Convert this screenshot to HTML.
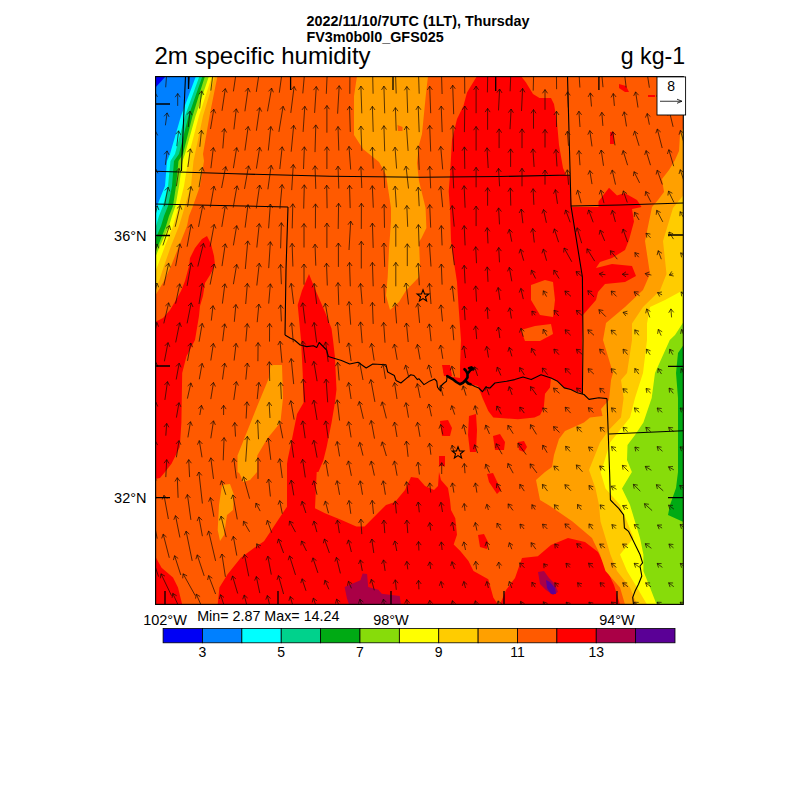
<!DOCTYPE html>
<html><head><meta charset="utf-8"><style>html,body{margin:0;padding:0;background:#fff;width:800px;height:800px;overflow:hidden}body{position:relative;font-family:"Liberation Sans",sans-serif}</style></head><body>
<svg width="800" height="800" viewBox="0 0 800 800" style="position:absolute;left:0;top:0">
<defs><clipPath id="mc"><rect x="155.6" y="76.6" width="527.6999999999999" height="527.8"/></clipPath></defs>
<rect width="800" height="800" fill="#fff"/>
<g clip-path="url(#mc)">
<rect x="155.6" y="76.6" width="527.6999999999999" height="527.8" fill="#ff5a00"/>
<polygon fill="#ffa000" points="217.5,76.0 209.5,116.0 203.0,154.0 204.0,161.0 200.0,186.0 193.0,206.0 189.0,216.0 187.0,226.0 179.0,246.0 171.0,266.0 164.0,281.0 158.0,291.0 155.0,296.0 155.0,76.0"/>
<polygon fill="#ffcc00" points="215.0,76.0 203.0,116.0 195.0,154.0 193.5,161.0 191.0,186.0 185.0,206.0 182.0,216.0 179.0,226.0 171.0,246.0 164.0,266.0 159.0,281.0 155.0,290.0 155.0,76.0"/>
<polygon fill="#ffff00" points="212.0,76.0 199.0,116.0 189.0,154.0 188.0,161.0 184.0,186.0 179.0,206.0 176.0,216.0 173.0,226.0 165.0,246.0 157.5,266.0 155.0,272.0 155.0,76.0"/>
<polygon fill="#87dc0a" points="209.0,76.0 195.5,116.0 185.0,154.0 182.5,161.0 179.0,186.0 175.5,206.0 172.0,216.0 169.0,226.0 160.0,246.0 155.0,258.0 155.0,76.0"/>
<polygon fill="#00aa14" points="205.0,76.0 192.5,116.0 183.0,154.0 178.5,161.0 176.0,186.0 173.0,206.0 169.0,216.0 166.0,226.0 158.0,246.0 155.0,250.0 155.0,76.0"/>
<polygon fill="#00d28c" points="202.5,76.0 188.5,116.0 179.0,154.0 174.0,161.0 172.0,186.0 168.0,206.0 164.0,216.0 161.0,226.0 155.0,240.0 155.0,76.0"/>
<polygon fill="#00ffff" points="199.5,76.0 185.0,116.0 175.0,154.0 170.5,161.0 168.0,186.0 163.0,206.0 159.0,216.0 156.0,226.0 155.0,228.0 155.0,76.0"/>
<polygon fill="#0080ff" points="196.0,76.0 181.0,116.0 170.0,154.0 167.0,161.0 165.0,186.0 157.0,206.0 155.0,210.0 155.0,76.0"/>
<polygon fill="#0000f5" points="166.0,76.0 155.0,88.0 155.0,76.0"/>
<polygon fill="#ffa000" points="357.0,76.0 428.0,76.0 425.6,97.5 422.0,134.0 419.0,145.0 417.0,163.0 419.0,181.0 425.6,208.0 426.4,228.0 421.5,238.0 419.0,242.0 420.0,266.0 419.0,277.0 415.7,280.6 406.0,290.5 399.0,302.0 390.0,310.0 386.0,295.5 387.7,277.0 389.0,249.0 391.0,221.0 391.0,208.0 386.0,175.0 379.0,162.0 363.0,149.0 354.0,135.0 354.0,96.0"/>
<polygon fill="#ff5a00" points="397.5,125.0 402.5,127.0 402.5,131.0 398.0,131.0"/>
<polygon fill="#ff0000" points="477.0,76.0 521.0,76.0 526.0,82.6 533.0,94.0 539.5,98.0 551.0,98.0 554.0,104.0 557.0,122.0 559.0,145.0 563.0,168.0 566.0,175.0 570.0,176.0 571.5,207.0 598.5,207.0 598.5,201.5 609.0,187.7 617.0,195.4 624.6,193.0 637.0,200.0 641.5,207.0 632.0,209.0 634.0,221.5 629.0,240.0 625.0,250.0 612.0,258.0 600.0,262.0 596.0,268.0 612.0,264.0 632.0,266.0 636.0,276.0 625.0,282.0 605.0,284.0 598.0,292.0 596.0,300.0 583.0,315.0 582.0,340.0 582.0,393.0 570.8,389.5 564.2,387.9 557.6,381.3 551.0,378.0 550.0,387.5 545.0,393.8 543.8,407.5 540.0,415.0 534.5,417.6 518.0,419.2 493.3,417.6 488.3,411.0 482.5,398.0 478.0,386.0 470.5,384.2 465.2,380.5 460.0,384.2 454.0,380.5 447.2,376.0 451.0,376.8 451.0,368.0 446.0,365.0 443.5,366.0 443.5,373.0 447.2,376.0 460.0,378.0 460.0,366.0 461.0,340.0 458.6,307.0 457.0,282.0 454.5,265.8 451.0,241.0 450.0,208.0 448.7,191.5 450.0,175.0 452.0,140.0 457.0,119.0 463.5,105.7 467.0,92.5"/>
<polygon fill="#ff5a00" points="531.0,285.0 545.0,280.0 553.0,282.0 555.0,300.0 553.0,317.0 540.0,315.0 531.0,300.0"/>
<polygon fill="#ff5a00" points="521.0,330.0 535.0,326.0 551.0,324.0 553.0,334.0 540.0,341.0 525.0,341.0"/>
<polygon fill="#ff0000" points="610.0,132.0 614.0,132.0 614.0,144.0 610.0,144.0"/>
<polygon fill="#ff0000" points="619.0,84.0 626.0,86.0 629.0,92.0 625.0,92.0 619.0,88.0"/>
<polygon fill="#ff0000" points="648.0,95.0 655.0,95.0 655.0,97.0 648.0,97.0"/>
<polygon fill="#ff0000" points="469.0,416.0 476.0,414.0 477.0,430.0 476.0,452.0 470.0,452.0 468.0,435.0"/>
<polygon fill="#ff0000" points="440.0,421.0 448.0,420.0 452.0,428.0 450.0,436.0 442.0,436.0"/>
<polygon fill="#ff0000" points="493.0,436.0 500.0,434.0 505.0,442.0 504.0,450.0 495.0,450.0"/>
<polygon fill="#ff0000" points="518.0,442.0 524.0,441.0 527.0,447.0 524.0,452.0 519.0,450.0"/>
<polygon fill="#ff0000" points="439.0,456.0 445.0,456.0 445.0,466.0 439.0,466.0"/>
<polygon fill="#ff0000" points="442.0,365.0 450.0,365.0 452.0,376.0 444.0,376.0"/>
<polygon fill="#ff0000" points="207.0,236.0 211.0,244.0 214.0,256.0 215.0,265.0 210.0,275.0 205.0,283.0 203.0,296.0 200.0,306.0 199.0,316.0 195.0,340.0 186.4,356.5 182.2,373.0 181.4,422.5 179.8,447.0 171.5,463.8 165.0,472.0 160.0,478.0 155.0,479.0 155.0,322.0 163.0,318.0 170.0,310.0 176.0,300.0 181.0,291.0 185.0,281.0 189.0,266.0 190.0,258.0 195.0,248.0 202.0,239.0"/>
<polygon fill="#ff0000" points="155.0,556.0 161.6,567.7 173.0,577.6 178.0,587.5 182.2,604.5 155.0,604.5"/>
<polygon fill="#ff0000" points="309.0,274.0 315.0,289.0 325.0,312.0 331.5,328.5 333.0,340.0 334.9,356.5 336.5,389.5 334.9,402.7 331.6,422.5 326.6,447.3 323.3,460.5 318.4,472.0 316.7,472.0 315.0,508.3 325.0,513.3 341.5,519.9 356.3,526.5 364.6,526.5 376.0,514.9 386.0,505.0 395.0,502.0 405.0,490.0 411.0,477.0 418.0,478.0 425.0,486.0 434.0,490.0 438.0,486.0 439.0,472.0 441.0,480.0 448.0,488.0 450.0,500.0 451.0,510.0 455.3,518.2 457.0,534.7 453.7,544.6 460.3,551.0 468.5,561.0 473.5,571.0 488.3,579.3 493.3,597.4 498.0,604.5 217.7,604.5 219.4,587.5 227.6,574.3 240.8,557.8 254.0,547.9 264.0,541.3 273.8,526.5 280.4,516.6 287.0,506.7 287.0,464.0 287.8,458.8 292.0,439.0 297.0,414.0 303.5,402.7 302.7,373.0 301.0,340.0 297.7,305.0 302.0,290.5"/>
<polygon fill="#ffa000" points="222.0,485.0 230.0,484.0 234.0,495.0 233.0,510.0 227.0,515.0 224.0,535.0 220.0,541.0 217.7,530.0 219.0,505.0"/>
<polygon fill="#ffa000" points="239.0,472.0 252.0,472.0 250.0,480.0 243.0,482.0"/>
<polygon fill="#ffa000" points="270.5,365.0 282.0,365.0 283.0,398.0 280.4,422.5 267.0,439.0 257.3,455.5 257.0,472.0 250.0,480.0 237.5,472.0 237.5,455.5 247.4,430.8 257.3,406.0 268.9,378.0"/>
<polygon fill="#ff0000" points="500.0,604.5 506.0,590.0 515.0,578.0 522.0,558.0 537.8,556.2 551.0,545.0 568.0,538.0 585.0,542.0 598.0,552.0 606.0,568.0 614.0,585.0 620.0,604.5"/>
<polygon fill="#ff0000" points="487.0,474.0 493.0,473.0 501.0,490.0 497.0,494.0 489.0,482.0"/>
<polygon fill="#ffa000" points="683.5,127.0 680.0,135.0 679.0,151.0 675.0,160.0 669.0,170.0 662.0,179.0 664.0,192.0 658.0,200.0 652.0,207.0 645.0,241.0 650.0,274.0 643.0,290.0 625.0,307.0 606.0,323.0 603.0,340.0 613.0,373.0 611.0,380.0 609.0,400.0 601.0,409.0 602.5,416.0 590.0,417.5 584.0,422.5 565.0,431.0 559.0,439.0 554.0,455.0 552.0,467.0 545.0,472.0 536.0,480.0 540.0,500.0 550.0,506.0 572.5,521.5 592.0,538.0 600.0,554.5 605.5,571.0 620.0,587.5 625.0,604.5 683.5,604.5"/>
<polygon fill="#ffcc00" points="683.5,195.0 673.0,208.0 663.0,241.0 666.5,274.0 660.0,290.5 643.0,307.0 632.0,323.5 632.0,340.0 627.0,373.0 621.0,380.0 623.6,398.0 621.0,417.5 608.8,430.0 600.0,442.5 589.0,470.0 595.5,488.5 599.0,505.0 600.5,521.5 605.5,538.0 610.4,554.5 617.0,571.0 630.0,587.5 637.0,604.5 683.5,604.5"/>
<polygon fill="#ffff00" points="683.5,290.0 665.0,300.0 650.0,307.0 647.0,323.5 647.0,340.0 643.0,373.0 635.0,398.0 630.0,417.5 620.0,430.0 610.0,442.5 602.5,467.5 600.5,472.0 605.5,488.5 620.0,505.0 627.0,521.5 633.5,538.0 620.0,554.5 627.0,571.0 637.0,587.5 647.0,604.5 683.5,604.5"/>
<polygon fill="#87dc0a" points="683.5,322.0 675.0,335.0 669.8,340.0 655.0,373.0 651.7,398.0 643.4,422.5 635.0,435.0 627.5,445.0 627.0,460.0 631.9,472.0 622.0,488.5 630.0,505.0 635.0,521.5 640.0,538.0 643.4,554.5 643.4,571.0 650.0,587.5 656.6,604.5 683.5,604.5"/>
<polygon fill="#00aa14" points="683.5,345.0 678.0,353.0 676.0,373.0 678.0,398.0 678.0,472.0 676.0,488.0 670.0,505.0 668.0,515.0 683.5,522.0"/>
<polygon fill="#ff0000" points="478.0,535.0 484.0,534.0 488.0,542.0 487.0,549.0 480.0,547.0"/>
<polygon fill="#aa0046" points="538.0,572.0 544.0,571.0 549.0,578.0 555.0,584.0 558.0,592.0 553.0,595.0 546.0,590.0 540.0,584.0"/>
<polygon fill="#5a0096" points="546.0,580.0 550.0,582.0 555.0,588.0 556.0,594.0 551.0,594.0 547.0,588.0"/>
<polygon fill="#aa0046" points="344.6,587.0 360.4,580.2 362.6,573.5 367.1,574.0 368.2,587.0 378.4,589.8 381.7,593.7 399.7,596.0 400.9,604.5 349.0,604.5 346.9,598.2"/>
<path d="M185.5 76L182 156L181.5 171 M155 171.2L235 173.8L330 176.2L420 177.3L500 176.5L570 175 M155 204L220 205.5L288 207 M288 207L286 270L285 335 M285 335L290 338L294.4 340L300.2 345L306.8 346.6L313.4 345.8L316.7 347.4L319.2 342.5L326.6 350L328.3 356.5L336.5 359L341.5 360.6L349.7 364L358 362.3L366.2 368L372.8 364L386 364.8L387.7 372L394.3 375.5L396 380.4L400.9 383L405.8 378.8L410.8 374.7L414 375.5L417.4 379.6L419 378.8L424 384.6L430 380.9L434.5 379L436.75 381.25L437.5 387.25L440.5 391L441.25 385.75L443.5 383.5L446.5 381.25L447.25 376M470.5 384.25L475 386.5L478.75 388L482.5 391.75L485.5 387.25L490 388L494.9 383L506.5 381.3L514.7 379.6L523 377L531.2 379.6L541 374.7L551 378L557.6 381.3L564.2 387.9L570.8 389.5L577.4 392.8L584 394.5L589 399.4L598.9 397.8L607 398.6 M567.5 76L571 206 M571 206L620 205L683.5 203 M571 206L582.4 277L583 340L582.4 394.5 M607 398.6L609.6 472L610.4 500 M609 434L683.5 430.8 M610.4 500L613.7 503.4L618.7 508.3L623.6 514.9L624.4 528L628.6 531.4L631.9 538L636.8 548L640 554.5L642.6 562.8L640 566L641.8 576L638.5 584.2L635.2 590.8L632.7 597.4L633.5 604.5" fill="none" stroke="#000" stroke-width="1.1" stroke-linejoin="round"/>
<path d="M447.25 376.01L452.51 379.01L456.26 382.01L460.01 384.26L463.01 382.76L465.26 380.51L468.26 383.51L470.51 384.26M465.26 380.51L467.51 377.51L467.51 373.75L466.01 370.75L464.51 369.25M467.51 373.75L470.51 370.00L473.51 368.88L471.26 367.38L469.01 368.13" fill="none" stroke="#000" stroke-width="2.6" stroke-linejoin="round" stroke-linecap="round"/>
<path d="M165.7 87.3L166.7 73.3M164.0 76.8L166.7 73.3L169.0 77.2 M188.5 88.1L189.9 72.5M187.0 76.0L189.9 72.5L192.0 76.4 M210.8 90.6L213.5 70.0M210.5 73.4L213.5 70.0L215.5 74.1 M233.4 91.4L236.7 69.1M233.7 72.5L236.7 69.1L238.7 73.2 M256.3 91.9L259.8 68.7M256.7 72.0L259.8 68.7L261.7 72.8 M279.3 92.7L282.7 67.9M279.7 71.2L282.7 67.9L284.7 71.9 M302.8 93.4L305.1 67.2M302.3 70.7L305.1 67.2L307.3 71.1 M326.3 93.8L327.5 66.8M324.8 70.4L327.5 66.8L329.9 70.6 M349.8 93.8L350.0 66.7M347.4 70.5L350.0 66.7L352.5 70.5 M373.1 93.7L372.5 66.9M370.1 70.7L372.5 66.9L375.1 70.6 M396.2 93.5L395.3 67.1M393.0 70.9L395.3 67.1L398.0 70.7 M419.2 93.7L418.3 66.9M415.9 70.7L418.3 66.9L420.9 70.5 M442.1 94.0L441.3 66.6M438.9 70.4L441.3 66.6L443.9 70.3 M464.8 93.6L464.5 67.0M462.0 70.8L464.5 67.0L467.1 70.7 M487.4 92.4L487.8 68.2M485.2 71.9L487.8 68.2L490.2 72.0 M510.1 91.3L511.0 69.3M508.3 73.0L511.0 69.3L513.3 73.2 M533.2 90.6L533.8 70.0M531.2 73.6L533.8 70.0L536.2 73.8 M556.6 89.2L556.4 71.4M553.9 75.1L556.4 71.4L558.9 75.1 M579.9 87.5L579.0 73.1M576.7 76.9L579.0 73.1L581.7 76.6 M603.0 87.2L601.7 73.4M599.6 77.4L601.7 73.4L604.6 76.9 M626.2 87.5L624.4 73.1M622.4 77.1L624.4 73.1L627.4 76.5 M649.4 87.7L647.1 72.9M645.2 77.0L647.1 72.9L650.2 76.2 M672.5 87.7L670.0 72.9M668.1 77.0L670.0 72.9L673.1 76.2 M154.2 106.4L155.3 93.0M152.5 96.5L155.3 93.0L157.5 96.9 M177.7 105.9L177.7 93.5M175.2 97.2L177.7 93.5L180.2 97.2 M199.6 108.5L201.7 90.9M198.8 94.3L201.7 90.9L203.8 94.9 M222.0 110.8L225.3 88.6M222.2 91.9L225.3 88.6L227.2 92.6 M244.9 111.3L248.2 88.1M245.2 91.5L248.2 88.1L250.2 92.2 M267.5 111.3L271.6 88.1M268.5 91.4L271.6 88.1L273.4 92.3 M290.8 112.9L294.1 86.5M291.2 89.9L294.1 86.5L296.2 90.5 M314.6 112.9L316.3 86.5M313.5 90.1L316.3 86.5L318.5 90.4 M337.6 113.7L339.2 85.7M336.5 89.3L339.2 85.7L341.5 89.5 M361.8 113.3L360.9 86.1M358.5 89.9L360.9 86.1L363.6 89.7 M384.7 113.3L383.9 86.1M381.5 89.9L383.9 86.1L386.5 89.7 M407.7 112.9L406.8 86.5M404.4 90.3L406.8 86.5L409.5 90.1 M430.7 113.2L429.7 86.2M427.3 90.0L429.7 86.2L432.4 89.8 M453.7 114.2L452.7 85.2M450.3 89.0L452.7 85.2L455.3 88.8 M476.1 113.2L476.1 86.2M473.6 89.9L476.1 86.2L478.6 89.9 M498.5 110.4L499.6 89.0M496.9 92.6L499.6 89.0L502.0 92.9 M521.5 111.0L522.6 88.4M519.9 92.0L522.6 88.4L524.9 92.3 M545.0 109.8L545.0 89.6M542.5 93.3L545.0 89.6L547.5 93.3 M568.3 107.6L567.6 91.8M565.3 95.6L567.6 91.8L570.3 95.4 M591.5 106.5L590.3 92.9M588.1 96.9L590.3 92.9L593.1 96.5 M614.4 105.9L613.3 93.5M611.1 97.4L613.3 93.5L616.1 97.0 M638.0 107.5L635.6 91.9M633.7 95.9L635.6 91.9L638.6 95.2 M661.1 107.1L658.4 92.3M656.6 96.5L658.4 92.3L661.6 95.6 M684.4 107.3L681.1 92.1M679.4 96.3L681.1 92.1L684.3 95.2 M165.4 125.3L167.1 112.9M164.1 116.3L167.1 112.9L169.1 116.9 M188.3 127.0L190.0 111.2M187.1 114.6L190.0 111.2L192.1 115.1 M210.5 129.0L213.8 109.2M210.7 112.5L213.8 109.2L215.7 113.3 M233.9 129.4L236.3 108.8M233.4 112.2L236.3 108.8L238.4 112.8 M256.4 130.7L259.7 107.6M256.7 110.9L259.7 107.6L261.7 111.6 M278.9 131.9L283.1 106.3M280.0 109.6L283.1 106.3L285.0 110.4 M303.1 131.9L304.8 106.3M302.0 109.9L304.8 106.3L307.1 110.2 M326.9 132.7L326.9 105.5M324.4 109.2L326.9 105.5L329.4 109.2 M350.3 131.9L349.5 106.3M347.1 110.1L349.5 106.3L352.1 110.0 M373.2 131.9L372.4 106.3M370.0 110.1L372.4 106.3L375.0 110.0 M396.2 130.7L395.4 107.6M393.0 111.4L395.4 107.6L398.0 111.2 M419.2 132.1L418.2 106.1M415.9 109.9L418.2 106.1L420.9 109.7 M442.2 132.1L441.2 106.1M438.8 109.9L441.2 106.1L443.8 109.7 M464.4 132.1L464.8 106.1M462.3 109.8L464.8 106.1L467.3 109.9 M487.6 129.8L487.6 108.4M485.1 112.1L487.6 108.4L490.1 112.1 M510.0 129.2L511.1 109.0M508.4 112.6L511.1 109.0L513.4 112.8 M533.5 128.7L533.5 109.5M531.0 113.3L533.5 109.5L536.0 113.3 M556.5 127.0L556.5 111.2M553.9 115.0L556.5 111.2L559.0 115.0 M580.0 127.0L578.9 111.2M576.6 115.1L578.9 111.2L581.6 114.8 M602.9 125.9L601.8 112.3M599.6 116.3L601.8 112.3L604.6 115.9 M626.5 126.4L624.2 111.8M622.3 115.9L624.2 111.8L627.3 115.1 M649.4 124.7L647.2 113.5M645.4 117.6L647.2 113.5L650.4 116.6 M673.1 126.8L669.4 111.4M667.8 115.6L669.4 111.4L672.7 114.4 M153.9 145.6L155.6 131.4M152.7 134.8L155.6 131.4L157.7 135.4 M176.8 146.2L178.6 130.8M175.7 134.2L178.6 130.8L180.7 134.8 M199.8 146.8L201.5 130.3M198.6 133.7L201.5 130.3L203.6 134.2 M222.8 148.4L224.4 128.6M221.6 132.1L224.4 128.6L226.6 132.5 M244.9 150.5L248.2 126.5M245.2 129.9L248.2 126.5L250.2 130.6 M268.3 150.5L270.8 126.5M267.9 130.0L270.8 126.5L272.9 130.5 M291.2 151.7L293.7 125.3M290.9 128.8L293.7 125.3L295.9 129.3 M315.0 152.1L315.8 124.9M313.2 128.5L315.8 124.9L318.2 128.7 M338.8 150.5L338.0 126.5M335.6 130.4L338.0 126.5L340.6 130.2 M361.8 150.9L360.9 126.1M358.5 129.9L360.9 126.1L363.6 129.8 M384.7 151.3L383.9 125.7M381.5 129.5L383.9 125.7L386.5 129.4 M408.1 150.9L406.4 126.1M404.2 130.0L406.4 126.1L409.2 129.7 M430.7 151.5L429.7 125.5M427.3 129.3L429.7 125.5L432.4 129.1 M453.5 151.5L452.9 125.5M450.4 129.3L452.9 125.5L455.5 129.2 M476.1 150.5L476.1 126.5M473.6 130.2L476.1 126.5L478.6 130.2 M499.1 148.1L499.1 128.9M496.6 132.7L499.1 128.9L501.6 132.7 M522.0 148.1L522.0 128.9M519.5 132.7L522.0 128.9L524.5 132.7 M545.0 147.5L545.0 129.5M542.5 133.2L545.0 129.5L547.5 133.2 M568.5 145.8L567.4 131.2M565.2 135.1L567.4 131.2L570.2 134.7 M592.0 146.4L589.8 130.6M587.8 134.7L589.8 130.6L592.8 134.0 M615.0 145.3L612.7 131.7M610.9 135.8L612.7 131.7L615.8 135.0 M639.1 145.8L634.6 131.2M633.2 135.5L634.6 131.2L638.1 134.0 M662.2 148.0L657.3 129.0M655.8 133.3L657.3 129.0L660.7 132.0 M685.0 146.6L680.4 130.4M679.0 134.7L680.4 130.4L683.8 133.3 M165.4 164.9L167.1 150.9M164.1 154.3L167.1 150.9L169.1 154.9 M187.9 167.0L190.4 148.8M187.4 152.2L190.4 148.8L192.4 152.9 M210.9 168.2L213.4 147.6M210.4 151.0L213.4 147.6L215.4 151.6 M233.4 168.2L236.7 147.6M233.7 150.9L236.7 147.6L238.6 151.7 M256.4 168.6L259.7 147.2M256.6 150.5L259.7 147.2L261.6 151.3 M279.8 169.0L282.2 146.8M279.3 150.2L282.2 146.8L284.3 150.8 M303.5 169.0L304.4 146.8M301.7 150.4L304.4 146.8L306.7 150.6 M326.9 169.0L326.9 146.8M324.4 150.5L326.9 146.8L329.4 150.5 M350.7 169.5L349.0 146.4M346.8 150.3L349.0 146.4L351.8 149.9 M373.2 168.6L372.4 147.2M370.0 151.0L372.4 147.2L375.1 150.8 M396.6 168.6L395.0 147.2M392.7 151.1L395.0 147.2L397.7 150.7 M419.2 169.9L418.2 145.9M415.9 149.7L418.2 145.9L420.9 149.5 M442.7 169.4L440.7 146.4M438.5 150.3L440.7 146.4L443.5 149.9 M464.8 168.9L464.4 146.9M462.0 150.7L464.4 146.9L467.0 150.6 M488.2 168.0L487.0 147.8M484.7 151.6L487.0 147.8L489.8 151.4 M510.6 166.9L510.6 148.9M508.0 152.6L510.6 148.9L513.1 152.6 M534.1 166.9L532.9 148.9M530.7 152.8L532.9 148.9L535.7 152.5 M557.0 166.4L555.9 149.5M553.6 153.4L555.9 149.5L558.7 153.0 M580.0 165.2L578.9 150.6M576.6 154.5L578.9 150.6L581.6 154.1 M603.5 165.8L601.2 150.0M599.3 154.1L601.2 150.0L604.3 153.4 M627.6 165.2L623.1 150.6M621.8 154.9L623.1 150.6L626.6 153.4 M650.5 165.2L646.0 150.6M644.7 154.9L646.0 150.6L649.5 153.4 M673.7 166.2L668.8 149.7M667.4 154.0L668.8 149.7L672.2 152.5 M153.6 185.4L155.9 169.3M152.9 172.6L155.9 169.3L157.9 173.3 M176.4 186.2L179.0 168.4M175.9 171.8L179.0 168.4L180.9 172.5 M199.0 187.2L202.3 167.4M199.2 170.7L202.3 167.4L204.2 171.5 M221.6 188.0L225.7 166.6M222.5 169.8L225.7 166.6L227.4 170.7 M244.5 188.9L248.6 165.8M245.5 169.0L248.6 165.8L250.5 169.9 M267.9 189.3L271.2 165.3M268.2 168.7L271.2 165.3L273.2 169.4 M291.7 190.1L293.3 164.5M290.6 168.1L293.3 164.5L295.6 168.4 M315.8 188.9L315.0 165.8M312.6 169.6L315.0 165.8L317.7 169.4 M338.8 188.5L338.0 166.2M335.6 170.0L338.0 166.2L340.6 169.8 M361.8 188.0L360.9 166.6M358.6 170.4L360.9 166.6L363.6 170.2 M384.7 188.0L383.9 166.6M381.5 170.4L383.9 166.6L386.5 170.2 M408.5 188.5L406.0 166.2M403.9 170.2L406.0 166.2L408.9 169.6 M430.7 188.3L429.7 166.3M427.4 170.2L429.7 166.3L432.4 169.9 M453.7 188.3L452.7 166.3M450.3 170.2L452.7 166.3L455.3 169.9 M476.1 187.3L476.1 167.3M473.6 171.0L476.1 167.3L478.6 171.0 M499.6 186.3L498.5 168.3M496.2 172.2L498.5 168.3L501.3 171.9 M522.0 186.3L522.0 168.3M519.5 172.0L522.0 168.3L524.5 172.0 M545.0 184.6L545.0 170.0M542.5 173.7L545.0 170.0L547.5 173.7 M568.6 184.8L567.3 169.8M565.1 173.8L567.3 169.8L570.1 173.3 M592.0 184.1L589.8 170.6M587.9 174.6L589.8 170.6L592.9 173.8 M615.5 184.6L612.2 170.0M610.5 174.2L612.2 170.0L615.5 173.1 M639.6 182.9L634.0 171.7M633.4 176.1L634.0 171.7L637.9 173.9 M662.3 184.5L657.2 170.2M656.1 174.5L657.2 170.2L660.8 172.8 M685.3 184.9L680.2 169.7M679.0 174.0L680.2 169.7L683.7 172.5 M164.4 206.2L168.1 187.2M164.9 190.4L168.1 187.2L169.8 191.4 M187.5 206.9L190.9 186.5M187.8 189.7L190.9 186.5L192.8 190.6 M210.3 207.2L214.0 186.2M210.8 189.5L214.0 186.2L215.8 190.3 M233.2 207.6L237.0 185.8M233.9 189.1L237.0 185.8L238.8 189.9 M256.3 208.4L259.7 185.0M256.7 188.4L259.7 185.0L261.7 189.1 M279.9 208.8L282.1 184.6M279.3 188.1L282.1 184.6L284.3 188.5 M303.7 208.6L304.3 184.8M301.6 188.5L304.3 184.8L306.7 188.6 M327.1 208.2L326.7 185.2M324.3 189.0L326.7 185.2L329.3 188.9 M350.2 208.1L349.5 185.3M347.1 189.1L349.5 185.3L352.2 189.0 M373.3 207.7L372.3 185.7M370.0 189.6L372.3 185.7L375.0 189.4 M396.4 207.3L395.1 186.2M392.9 190.0L395.1 186.2L397.9 189.7 M419.2 206.2L418.2 187.2M415.9 191.1L418.2 187.2L420.9 190.8 M442.7 207.2L440.7 186.2M438.5 190.2L440.7 186.2L443.5 189.7 M465.1 207.7L464.1 185.7M461.8 189.6L464.1 185.7L466.8 189.3 M487.6 205.7L487.6 187.7M485.1 191.4L487.6 187.7L490.1 191.4 M510.8 205.6L510.3 187.9M507.9 191.7L510.3 187.9L512.9 191.5 M533.9 204.8L533.1 188.7M530.8 192.5L533.1 188.7L535.8 192.3 M557.5 203.8L555.4 189.6M553.5 193.7L555.4 189.6L558.4 192.9 M581.2 203.2L577.6 190.2M576.2 194.5L577.6 190.2L581.0 193.1 M604.0 203.2L600.7 190.2M599.2 194.4L600.7 190.2L604.1 193.2 M627.3 202.5L623.3 190.9M622.2 195.2L623.3 190.9L626.9 193.6 M650.9 201.9L645.7 191.5M645.1 195.9L645.7 191.5L649.6 193.7 M673.9 202.4L668.5 191.1M667.9 195.5L668.5 191.1L672.4 193.3 M152.1 226.3L157.4 205.9M154.0 208.9L157.4 205.9L158.9 210.1 M175.2 226.8L180.2 205.4M176.9 208.5L180.2 205.4L181.8 209.6 M198.5 226.9L202.8 205.3M199.6 208.5L202.8 205.3L204.6 209.5 M221.8 226.9L225.4 205.3M222.3 208.6L225.4 205.3L227.3 209.4 M245.1 227.6L248.0 204.6M245.1 208.0L248.0 204.6L250.0 208.6 M268.6 228.3L270.4 204.0M267.6 207.5L270.4 204.0L272.7 207.9 M292.2 228.4L292.8 203.8M290.2 207.5L292.8 203.8L295.2 207.6 M315.4 228.4L315.5 203.9M312.9 207.6L315.5 203.9L318.0 207.6 M338.2 228.9L338.6 203.3M336.0 207.0L338.6 203.3L341.0 207.1 M361.3 228.9L361.4 203.3M358.9 207.0L361.4 203.3L363.9 207.0 M384.5 227.8L384.1 204.4M381.7 208.2L384.1 204.4L386.7 208.1 M407.7 226.8L406.8 205.5M404.4 209.3L406.8 205.5L409.5 209.1 M430.7 227.6L429.7 204.6M427.4 208.5L429.7 204.6L432.4 208.2 M454.2 226.6L452.2 205.6M450.0 209.6L452.2 205.6L455.0 209.1 M476.1 226.1L476.1 206.1M473.6 209.8L476.1 206.1L478.6 209.8 M499.5 224.4L498.6 207.9M496.3 211.7L498.6 207.9L501.4 211.5 M522.9 223.2L521.2 209.0M519.1 213.0L521.2 209.0L524.1 212.4 M546.4 222.8L543.5 209.5M541.9 213.6L543.5 209.5L546.8 212.6 M570.2 222.3L565.6 210.0M564.6 214.3L565.6 210.0L569.3 212.6 M593.2 222.3L588.6 210.0M587.5 214.3L588.6 210.0L592.3 212.6 M615.4 221.9L612.3 210.3M610.8 214.6L612.3 210.3L615.7 213.3 M639.1 220.0L634.5 212.3M634.3 216.8L634.5 212.3L638.6 214.2 M662.8 221.9L656.7 210.3M656.2 214.8L656.7 210.3L660.7 212.5 M685.3 220.5L680.1 211.7M679.9 216.2L680.1 211.7L684.2 213.7 M162.9 245.4L169.5 225.6M166.0 228.4L169.5 225.6L170.7 230.0 M187.1 246.7L191.2 224.4M188.1 227.6L191.2 224.4L193.0 228.5 M210.1 246.7L214.2 224.4M211.0 227.6L214.2 224.4L216.0 228.5 M233.4 245.4L236.7 225.6M233.6 228.9L236.7 225.6L238.6 229.7 M256.8 247.5L259.3 223.6M256.4 227.0L259.3 223.6L261.4 227.5 M280.6 248.3L281.4 222.7M278.8 226.4L281.4 222.7L283.8 226.5 M304.0 247.5L304.0 223.6M301.4 227.3L304.0 223.6L306.5 227.3 M326.9 247.9L326.9 223.1M324.4 226.9L326.9 223.1L329.4 226.9 M349.0 250.0L350.7 221.1M348.0 224.7L350.7 221.1L353.0 225.0 M373.2 247.9L372.4 223.1M370.0 227.0L372.4 223.1L375.0 226.8 M395.8 246.7L395.8 224.4M393.3 228.1L395.8 224.4L398.3 228.1 M419.1 246.4L418.4 224.6M416.0 228.4L418.4 224.6L421.0 228.2 M442.1 245.4L441.3 225.6M438.9 229.5L441.3 225.6L443.9 229.2 M465.1 245.4L464.2 225.6M461.9 229.5L464.2 225.6L466.9 229.2 M488.0 243.4L487.2 227.7M484.9 231.5L487.2 227.7L489.9 231.3 M511.8 241.7L509.3 229.3M507.6 233.5L509.3 229.3L512.5 232.5 M534.3 242.5L532.7 228.5M530.6 232.5L532.7 228.5L535.6 231.9 M558.6 242.2L554.3 228.9M553.1 233.2L554.3 228.9L557.9 231.6 M581.7 243.2L577.1 227.8M575.8 232.1L577.1 227.8L580.6 230.7 M604.7 240.9L600.1 230.1M599.2 234.6L600.1 230.1L603.8 232.6 M627.6 242.1L623.0 229.0M621.9 233.3L623.0 229.0L626.6 231.7 M650.6 237.8L646.0 233.2M646.8 237.6L646.0 233.2L650.4 234.1 M673.5 239.1L669.0 232.0M668.9 236.5L669.0 232.0L673.1 233.8 M152.3 265.7L157.2 244.1M153.9 247.2L157.2 244.1L158.9 248.3 M175.6 266.1L179.8 243.8M176.6 247.0L179.8 243.8L181.6 247.9 M197.8 266.5L203.5 243.4M200.2 246.4L203.5 243.4L205.1 247.6 M222.0 266.1L225.3 243.8M222.2 247.1L225.3 243.8L227.2 247.8 M245.3 269.0L247.8 240.9M245.0 244.4L247.8 240.9L250.0 244.8 M268.7 268.1L270.4 241.7M267.6 245.3L270.4 241.7L272.6 245.6 M292.9 266.5L292.1 243.4M289.7 247.2L292.1 243.4L294.7 247.0 M315.8 265.7L315.0 244.2M312.7 248.0L315.0 244.2L317.7 247.8 M338.4 266.9L338.4 243.0M335.9 246.7L338.4 243.0L340.9 246.7 M361.3 268.5L361.3 241.3M358.8 245.0L361.3 241.3L363.9 245.0 M384.7 266.9L383.9 243.0M381.5 246.8L383.9 243.0L386.5 246.6 M407.3 266.1L407.3 243.8M404.7 247.5L407.3 243.8L409.8 247.5 M431.0 266.5L429.4 243.4M427.1 247.3L429.4 243.4L432.2 246.9 M454.4 265.2L451.9 244.6M449.9 248.6L451.9 244.6L454.9 248.0 M476.5 263.2L475.7 246.7M473.4 250.5L475.7 246.7L478.4 250.3 M499.5 262.3L498.7 247.5M496.4 251.4L498.7 247.5L501.4 251.1 M523.7 260.7L520.4 249.1M519.0 253.4L520.4 249.1L523.8 252.0 M546.6 260.7L543.3 249.1M541.9 253.4L543.3 249.1L546.8 252.0 M571.8 261.8L564.1 248.0M563.7 252.5L564.1 248.0L568.1 250.0 M594.7 261.1L587.0 248.8M586.9 253.3L587.0 248.8L591.2 250.6 M617.3 259.2L610.4 250.7M610.8 255.2L610.4 250.7L614.7 252.0 M638.7 257.2L634.9 252.6M635.3 257.1L634.9 252.6L639.2 253.9 M661.3 259.2L658.2 250.7M657.1 255.1L658.2 250.7L661.9 253.3 M684.8 256.9L680.6 252.9M681.6 257.3L680.6 252.9L685.1 253.7 M163.8 285.5L168.7 263.2M165.4 266.3L168.7 263.2L170.3 267.4 M187.1 285.9L191.2 262.8M188.1 266.0L191.2 262.8L193.1 266.9 M210.1 284.6L214.2 264.0M211.0 267.2L214.2 264.0L215.9 268.2 M233.4 284.2L236.7 264.4M233.6 267.7L236.7 264.4L238.6 268.5 M256.8 285.5L259.3 263.2M256.4 266.6L259.3 263.2L261.4 267.2 M281.4 284.2L280.6 264.4M278.2 268.3L280.6 264.4L283.3 268.0 M304.0 284.6L304.0 264.0M301.4 267.7L304.0 264.0L306.5 267.7 M327.3 285.5L326.5 263.2M324.1 267.0L326.5 263.2L329.2 266.8 M350.3 286.3L349.5 262.4M347.1 266.2L349.5 262.4L352.1 266.0 M373.2 286.3L372.4 262.4M370.0 266.2L372.4 262.4L375.1 266.0 M395.8 286.3L395.8 262.4M393.3 266.1L395.8 262.4L398.3 266.1 M419.3 285.3L418.2 263.3M415.9 267.2L418.2 263.3L420.9 266.9 M442.1 284.6L441.3 264.0M438.9 267.8L441.3 264.0L443.9 267.6 M465.1 283.4L464.2 265.3M461.9 269.1L464.2 265.3L466.9 268.9 M488.0 281.8L487.2 266.9M484.9 270.8L487.2 266.9L489.9 270.5 M511.8 281.3L509.3 267.3M507.5 271.4L509.3 267.3L512.4 270.6 M535.6 278.5L531.4 270.2M530.9 274.7L531.4 270.2L535.4 272.4 M559.1 278.5L553.9 270.2M553.7 274.7L553.9 270.2L558.0 272.0 M582.9 277.0L576.0 271.6M577.4 275.9L576.0 271.6L580.4 271.9 M605.4 274.7L599.3 273.9M602.7 276.9L599.3 273.9L603.3 271.9 M628.4 274.3L622.3 274.3M626.0 276.8L622.3 274.3L626.0 271.8 M651.4 275.1L645.2 273.6M648.2 276.9L645.2 273.6L649.4 272.0 M673.2 273.6L669.3 275.1M673.7 276.0L669.3 275.1L671.8 271.4 M152.5 304.3L157.0 283.1M153.8 286.3L157.0 283.1L158.7 287.3 M175.6 303.6L179.8 283.8M176.5 287.0L179.8 283.8L181.5 288.0 M199.0 304.0L202.3 283.4M199.2 286.7L202.3 283.4L204.2 287.5 M222.4 303.6L224.9 283.8M221.9 287.2L224.9 283.8L226.9 287.8 M245.7 304.0L247.4 283.4M244.6 286.9L247.4 283.4L249.6 287.3 M268.7 303.6L270.4 283.8M267.5 287.3L270.4 283.8L272.5 287.8 M293.7 304.0L291.2 283.4M289.2 287.4L291.2 283.4L294.2 286.8 M316.7 304.0L314.2 283.4M312.1 287.4L314.2 283.4L317.1 286.8 M338.8 304.9L338.0 282.6M335.6 286.4L338.0 282.6L340.6 286.2 M362.2 304.0L360.5 283.4M358.3 287.3L360.5 283.4L363.3 286.9 M384.7 303.2L383.9 284.2M381.5 288.1L383.9 284.2L386.6 287.9 M408.5 304.5L406.0 283.0M403.9 287.0L406.0 283.0L408.9 286.4 M431.0 304.0L429.4 283.4M427.2 287.3L429.4 283.4L432.2 286.9 M454.0 301.6L452.3 285.9M450.2 289.9L452.3 285.9L455.2 289.3 M476.5 301.6L475.7 285.9M473.4 289.7L475.7 285.9L478.4 289.5 M499.9 299.9L498.2 287.5M496.2 291.6L498.2 287.5L501.2 290.9 M523.3 299.1L520.8 288.4M519.2 292.6L520.8 288.4L524.1 291.4 M546.6 296.6L543.3 290.8M543.0 295.3L543.3 290.8L547.4 292.8 M571.0 296.4L564.9 291.0M566.0 295.4L564.9 291.0L569.3 291.6 M594.0 296.8L587.8 290.7M588.7 295.1L587.8 290.7L592.2 291.5 M616.5 296.4L611.2 291.0M612.0 295.5L611.2 291.0L615.6 291.9 M639.5 295.7L634.1 291.8M635.7 296.0L634.1 291.8L638.6 291.9 M662.1 294.9L657.5 292.6M659.7 296.5L657.5 292.6L661.9 292.0 M684.4 295.6L681.0 291.9M681.7 296.3L681.0 291.9L685.4 293.0 M163.8 323.4L168.7 302.8M165.4 305.9L168.7 302.8L170.3 307.0 M187.1 323.4L191.2 302.8M188.0 306.0L191.2 302.8L193.0 307.0 M211.3 320.6L213.0 305.7M210.0 309.1L213.0 305.7L215.1 309.7 M234.3 321.8L235.9 304.5M233.1 307.9L235.9 304.5L238.1 308.4 M257.2 322.2L258.9 304.1M256.0 307.5L258.9 304.1L261.0 308.0 M281.4 321.4L280.6 304.9M278.3 308.7L280.6 304.9L283.3 308.5 M305.2 323.4L302.7 302.8M300.7 306.8L302.7 302.8L305.7 306.2 M328.6 323.0L325.3 303.2M323.4 307.3L325.3 303.2L328.4 306.5 M350.7 324.7L349.0 301.6M346.8 305.5L349.0 301.6L351.8 305.1 M373.2 323.9L372.4 302.4M370.0 306.2L372.4 302.4L375.1 306.0 M396.6 323.4L395.0 302.8M392.7 306.7L395.0 302.8L397.8 306.3 M419.6 322.9L417.8 303.4M415.7 307.4L417.8 303.4L420.7 306.9 M442.5 321.4L440.9 304.9M438.7 308.8L440.9 304.9L443.7 308.3 M465.1 320.1L464.2 306.1M461.9 310.0L464.2 306.1L467.0 309.7 M488.0 318.9L487.2 307.4M484.9 311.3L487.2 307.4L490.0 310.9 M511.4 318.5L509.7 307.8M507.8 311.8L509.7 307.8L512.8 311.1 M535.2 315.2L531.9 311.1M532.2 315.6L531.9 311.1L536.2 312.4 M558.8 316.0L554.1 310.3M554.6 314.8L554.1 310.3L558.4 311.6 M582.5 315.8L576.3 310.4M577.5 314.8L576.3 310.4L580.8 311.0 M605.8 316.6L598.9 309.7M599.8 314.1L598.9 309.7L603.3 310.5 M627.6 313.9L623.0 312.4M625.8 315.9L623.0 312.4L627.4 311.2 M649.8 317.4L646.7 308.9M645.7 313.3L646.7 308.9L650.4 311.5 M671.6 317.4L670.9 308.9M668.7 312.8L670.9 308.9L673.7 312.4 M152.6 342.6L156.9 322.5M153.7 325.6L156.9 322.5L158.6 326.7 M175.7 342.4L179.7 322.7M176.5 325.9L179.7 322.7L181.4 326.9 M199.1 341.7L202.2 323.4M199.1 326.7L202.2 323.4L204.1 327.5 M222.6 341.2L224.7 323.8M221.7 327.2L224.7 323.8L226.7 327.8 M245.8 341.4L247.3 323.6M244.5 327.2L247.3 323.6L249.5 327.6 M269.5 341.6L269.6 323.5M267.0 327.2L269.6 323.5L272.1 327.2 M293.3 342.3L291.6 322.8M289.5 326.7L291.6 322.8L294.5 326.3 M316.7 342.6L314.1 322.5M312.1 326.5L314.1 322.5L317.1 325.9 M339.4 343.1L337.4 322.0M335.2 325.9L337.4 322.0L340.2 325.5 M362.2 343.1L360.5 321.9M358.3 325.9L360.5 321.9L363.3 325.5 M385.0 342.7L383.6 322.4M381.3 326.3L383.6 322.4L386.4 325.9 M408.2 342.0L406.4 323.0M404.2 327.0L406.4 323.0L409.2 326.5 M431.1 341.2L429.3 323.9M427.2 327.9L429.3 323.9L432.2 327.3 M453.8 340.2L452.5 324.9M450.3 328.8L452.5 324.9L455.4 328.4 M476.7 339.1L475.6 325.9M473.4 329.9L475.6 325.9L478.4 329.5 M499.8 338.1L498.4 327.0M496.3 331.0L498.4 327.0L501.3 330.3 M523.2 336.7L520.9 328.3M519.4 332.6L520.9 328.3L524.3 331.3 M546.8 335.6L543.2 329.4M542.9 333.9L543.2 329.4L547.2 331.4 M570.7 335.3L565.1 329.8M566.0 334.2L565.1 329.8L569.6 330.6 M594.0 335.3L587.8 329.8M588.9 334.1L587.8 329.8L592.3 330.4 M616.6 335.0L611.1 330.1M612.2 334.4L611.1 330.1L615.6 330.7 M638.8 335.3L634.8 329.8M635.0 334.3L634.8 329.8L639.0 331.3 M661.2 335.6L658.3 329.4M657.6 333.9L658.3 329.4L662.2 331.8 M684.0 335.6L681.5 329.5M680.6 333.9L681.5 329.5L685.2 332.0 M164.4 361.3L168.0 342.6M164.9 345.8L168.0 342.6L169.8 346.8 M187.5 360.8L190.8 343.0M187.7 346.2L190.8 343.0L192.6 347.2 M210.8 360.5L213.4 343.4M210.4 346.7L213.4 343.4L215.4 347.5 M234.1 360.5L236.1 343.4M233.2 346.8L236.1 343.4L238.2 347.4 M257.9 361.2L258.1 342.6M255.6 346.3L258.1 342.6L260.6 346.4 M282.0 362.7L280.0 341.2M277.8 345.1L280.0 341.2L282.8 344.6 M305.3 362.9L302.6 341.0M300.6 345.0L302.6 341.0L305.6 344.4 M328.2 361.9L325.6 341.9M323.6 346.0L325.6 341.9L328.6 345.3 M351.1 361.0L348.6 342.9M346.6 346.9L348.6 342.9L351.6 346.3 M374.2 360.5L371.5 343.4M369.6 347.5L371.5 343.4L374.5 346.7 M397.2 359.8L394.4 344.1M392.5 348.2L394.4 344.1L397.5 347.3 M420.1 359.5L417.4 344.4M415.6 348.5L417.4 344.4L420.5 347.6 M442.8 358.8L440.6 345.1M438.7 349.2L440.6 345.1L443.7 348.4 M465.6 358.0L463.7 345.9M461.8 350.0L463.7 345.9L466.8 349.2 M488.5 357.5L486.7 346.4M484.8 350.5L486.7 346.4L489.8 349.7 M511.9 356.4L509.2 347.4M507.9 351.7L509.2 347.4L512.7 350.3 M535.6 355.5L531.5 348.4M531.2 352.9L531.5 348.4L535.5 350.4 M559.0 354.7L553.9 349.1M554.6 353.6L553.9 349.1L558.3 350.2 M582.5 354.6L576.4 349.3M577.5 353.6L576.4 349.3L580.8 349.8 M605.2 354.7L599.6 349.2M600.5 353.6L599.6 349.2L604.0 350.0 M627.6 354.6L623.1 349.2M623.5 353.7L623.1 349.2L627.4 350.5 M650.2 354.8L646.4 349.1M646.4 353.6L646.4 349.1L650.6 350.8 M672.8 354.7L669.7 349.2M669.3 353.7L669.7 349.2L673.7 351.2 M153.3 379.9L156.2 362.8M153.1 366.1L156.2 362.8L158.0 366.9 M176.2 379.5L179.2 363.2M176.0 366.4L179.2 363.2L181.0 367.3 M199.3 379.3L202.1 363.4M198.9 366.6L202.1 363.4L203.9 367.5 M222.5 379.5L224.7 363.2M221.7 366.5L224.7 363.2L226.7 367.2 M245.8 379.6L247.4 363.0M244.5 366.5L247.4 363.0L249.5 367.0 M269.7 381.0L269.3 361.7M266.9 365.4L269.3 361.7L271.9 365.3 M293.7 384.1L291.2 358.6M289.1 362.5L291.2 358.6L294.1 362.0 M317.1 381.2L313.8 361.4M311.9 365.5L313.8 361.4L316.9 364.7 M339.2 380.4L337.6 362.3M335.4 366.2L337.6 362.3L340.4 365.8 M363.0 380.0L359.7 362.7M357.9 366.8L359.7 362.7L362.9 365.9 M385.5 378.8L383.1 363.9M381.2 368.0L383.1 363.9L386.2 367.2 M408.9 377.5L405.6 365.2M404.1 369.4L405.6 365.2L409.0 368.1 M431.7 377.7L428.7 365.0M427.1 369.2L428.7 365.0L432.0 368.0 M454.6 376.5L451.8 366.2M450.3 370.4L451.8 366.2L455.2 369.1 M477.6 375.9L474.6 366.8M473.4 371.1L474.6 366.8L478.2 369.5 M500.9 375.5L497.2 367.2M496.4 371.6L497.2 367.2L501.0 369.6 M524.4 375.0L519.7 367.6M519.6 372.1L519.7 367.6L523.8 369.5 M547.7 374.7L542.3 368.0M542.7 372.5L542.3 368.0L546.6 369.3 M570.8 374.2L565.1 368.5M565.9 372.9L565.1 368.5L569.5 369.3 M593.8 374.0L588.0 368.7M589.0 373.0L588.0 368.7L592.5 369.4 M616.6 374.0L611.1 368.7M612.0 373.1L611.1 368.7L615.6 369.5 M638.8 374.1L634.8 368.5M634.9 373.0L634.8 368.5L639.0 370.1 M661.5 374.0L658.0 368.6M657.9 373.1L658.0 368.6L662.2 370.4 M684.4 374.1L681.1 368.6M680.8 373.1L681.1 368.6L685.1 370.5 M164.9 399.9L167.5 381.6M164.5 384.9L167.5 381.6L169.5 385.6 M187.4 398.6L190.9 382.9M187.7 386.0L190.9 382.9L192.6 387.1 M210.8 399.1L213.5 382.4M210.4 385.7L213.5 382.4L215.4 386.5 M233.8 399.9L236.4 381.6M233.4 384.9L236.4 381.6L238.4 385.6 M257.2 399.1L258.9 382.4M256.0 385.9L258.9 382.4L261.0 386.4 M281.4 399.1L280.6 382.4M278.2 386.3L280.6 382.4L283.3 386.0 M304.8 402.3L303.1 379.2M300.9 383.1L303.1 379.2L305.9 382.7 M327.7 402.3L326.1 379.2M323.8 383.1L326.1 379.2L328.9 382.7 M351.1 399.0L348.6 382.5M346.7 386.6L348.6 382.5L351.7 385.8 M374.9 401.9L370.8 379.6M369.0 383.7L370.8 379.6L373.9 382.8 M397.0 399.0L394.5 382.5M392.6 386.6L394.5 382.5L397.6 385.8 M420.2 397.9L417.3 383.6M415.6 387.8L417.3 383.6L420.5 386.8 M443.1 395.9L440.3 385.6M438.8 389.9L440.3 385.6L443.7 388.5 M466.1 395.6L463.1 385.9M461.8 390.2L463.1 385.9L466.6 388.7 M489.2 395.2L486.0 386.3M484.9 390.7L486.0 386.3L489.6 389.0 M512.1 394.9L509.1 386.6M508.0 391.0L509.1 386.6L512.7 389.3 M536.5 394.9L530.5 386.6M530.7 391.1L530.5 386.6L534.7 388.2 M559.5 393.4L553.5 388.1M554.6 392.5L553.5 388.1L557.9 388.7 M582.2 393.5L576.6 388.0M577.5 392.4L576.6 388.0L581.1 388.8 M605.0 393.2L599.8 388.3M600.7 392.7L599.8 388.3L604.2 389.0 M627.7 392.8L622.9 388.7M624.2 393.0L622.9 388.7L627.4 389.2 M650.6 393.0L646.0 388.5M646.9 392.9L646.0 388.5L650.4 389.3 M673.3 393.4L669.1 388.1M669.5 392.6L669.1 388.1L673.4 389.5 M153.6 417.9L155.9 402.4M152.8 405.8L155.9 402.4L157.8 406.5 M176.4 417.6L179.0 402.7M175.9 405.9L179.0 402.7L180.8 406.8 M199.8 415.0L201.5 405.3M198.4 408.6L201.5 405.3L203.3 409.5 M223.6 415.0L223.6 405.3M221.1 409.1L223.6 405.3L226.1 409.1 M246.1 418.5L247.0 401.8M244.3 405.4L247.0 401.8L249.3 405.7 M270.0 418.0L269.1 402.3M266.8 406.1L269.1 402.3L271.8 405.9 M294.1 419.6L290.8 400.7M289.0 404.8L290.8 400.7L293.9 403.9 M317.1 420.0L313.8 400.2M311.9 404.3L313.8 400.2L316.9 403.5 M339.6 420.5L337.2 399.8M335.1 403.8L337.2 399.8L340.1 403.2 M363.4 418.8L359.3 401.5M357.7 405.7L359.3 401.5L362.6 404.5 M386.4 418.4L382.2 401.9M380.7 406.1L382.2 401.9L385.6 404.9 M408.5 417.6L406.0 402.7M404.1 406.8L406.0 402.7L409.1 406.0 M431.5 416.3L428.9 404.0M427.2 408.2L428.9 404.0L432.1 407.1 M454.7 414.6L451.7 405.7M450.5 410.0L451.7 405.7L455.2 408.4 M477.2 414.6L475.0 405.7M473.5 409.9L475.0 405.7L478.3 408.7 M501.3 414.3L496.8 406.0M496.4 410.5L496.8 406.0L500.8 408.1 M524.3 413.1L519.8 407.1M520.0 411.6L519.8 407.1L524.0 408.6 M547.2 412.4L542.7 407.9M543.6 412.3L542.7 407.9L547.2 408.8 M570.7 413.1L565.2 407.2M565.9 411.7L565.2 407.2L569.6 408.2 M593.5 412.6L588.3 407.7M589.3 412.1L588.3 407.7L592.8 408.5 M616.2 412.4L611.5 407.9M612.4 412.3L611.5 407.9L615.9 408.6 M639.3 412.4L634.4 407.9M635.4 412.3L634.4 407.9L638.8 408.6 M662.3 412.3L657.2 408.0M658.4 412.3L657.2 408.0L661.7 408.5 M685.4 412.3L680.1 408.0M681.4 412.3L680.1 408.0L684.6 408.4 M165.8 435.7L166.7 423.4M163.9 427.0L166.7 423.4L168.9 427.3 M187.9 437.4L190.5 421.7M187.4 424.9L190.5 421.7L192.4 425.8 M210.8 438.3L213.5 420.8M210.4 424.1L213.5 420.8L215.4 424.9 M235.5 436.6L234.7 422.5M232.4 426.4L234.7 422.5L237.4 426.1 M258.5 439.2L257.6 419.9M255.3 423.8L257.6 419.9L260.3 423.5 M282.8 438.3L279.3 420.8M277.5 424.9L279.3 420.8L282.5 424.0 M305.2 438.2L302.7 420.9M300.8 424.9L302.7 420.9L305.7 424.2 M328.2 438.2L325.7 420.9M323.7 424.9L325.7 420.9L328.7 424.2 M351.1 437.4L348.6 421.7M346.7 425.8L348.6 421.7L351.7 425.0 M374.5 438.6L371.2 420.5M369.4 424.6L371.2 420.5L374.3 423.7 M397.0 437.0L394.5 422.1M392.7 426.2L394.5 422.1L397.6 425.4 M420.0 436.8L417.5 422.3M415.6 426.4L417.5 422.3L420.6 425.5 M442.8 434.6L440.6 424.5M438.9 428.7L440.6 424.5L443.8 427.6 M465.8 434.4L463.5 424.7M461.9 428.9L463.5 424.7L466.8 427.7 M489.5 434.0L485.7 425.1M484.8 429.5L485.7 425.1L489.5 427.5 M513.2 433.7L507.9 425.4M507.8 429.9L507.9 425.4L512.1 427.2 M536.5 434.4L530.5 424.7M530.3 429.2L530.5 424.7L534.6 426.5 M559.5 432.5L553.5 426.6M554.3 431.0L553.5 426.6L557.9 427.4 M581.9 432.2L576.9 426.9M577.6 431.3L576.9 426.9L581.3 427.9 M604.7 431.8L600.0 427.3M601.0 431.7L600.0 427.3L604.4 428.0 M627.7 431.8L623.0 427.3M624.0 431.7L623.0 427.3L627.4 428.0 M650.8 431.7L645.8 427.4M647.0 431.8L645.8 427.4L650.3 428.0 M673.9 431.7L668.6 427.4M669.9 431.7L668.6 427.4L673.1 427.8 M154.0 456.7L155.5 441.2M152.6 444.7L155.5 441.2L157.6 445.1 M176.4 457.3L179.0 440.6M176.0 443.9L179.0 440.6L180.9 444.7 M202.0 457.3L199.3 440.6M197.4 444.7L199.3 440.6L202.4 443.9 M223.2 460.3L224.1 437.6M221.4 441.2L224.1 437.6L226.4 441.4 M245.7 461.7L247.4 436.3M244.7 439.8L247.4 436.3L249.7 440.2 M270.8 459.9L268.2 438.0M266.2 442.0L268.2 438.0L271.2 441.4 M293.7 457.6L291.2 440.3M289.3 444.3L291.2 440.3L294.3 443.6 M317.1 457.6L313.8 440.3M312.0 444.4L313.8 440.3L317.0 443.5 M339.6 456.4L337.2 441.5M335.3 445.6L337.2 441.5L340.2 444.8 M363.0 455.6L359.7 442.4M358.2 446.6L359.7 442.4L363.0 445.4 M386.4 456.0L382.2 441.9M380.9 446.2L382.2 441.9L385.7 444.8 M408.1 456.8L406.4 441.1M404.3 445.1L406.4 441.1L409.3 444.6 M430.9 454.7L429.5 443.2M427.5 447.2L429.5 443.2L432.5 446.6 M454.3 452.7L452.0 445.2M450.7 449.5L452.0 445.2L455.5 448.1 M477.6 453.1L474.6 444.8M473.5 449.2L474.6 444.8L478.3 447.5 M502.1 454.2L496.1 443.7M495.7 448.2L496.1 443.7L500.1 445.7 M526.2 454.6L517.9 443.3M518.1 447.8L517.9 443.3L522.1 444.9 M547.2 452.7L542.7 445.2M542.5 449.7L542.7 445.2L546.8 447.1 M570.2 451.6L565.6 446.3M566.1 450.7L565.6 446.3L570.0 447.5 M593.2 450.9L588.6 447.0M589.8 451.4L588.6 447.0L593.1 447.5 M616.2 451.3L611.5 446.6M612.4 451.1L611.5 446.6L616.0 447.5 M638.7 450.9L634.9 447.0M635.7 451.4L634.9 447.0L639.3 447.9 M662.5 451.3L657.1 446.6M658.3 451.0L657.1 446.6L661.5 447.2 M685.4 451.0L680.0 446.9M681.5 451.2L680.0 446.9L684.5 447.1 M165.8 477.1L166.7 459.6M164.0 463.2L166.7 459.6L169.0 463.5 M189.6 477.1L188.7 459.6M186.4 463.5L188.7 459.6L191.4 463.2 M213.5 478.9L210.8 457.8M208.8 461.9L210.8 457.8L213.8 461.2 M236.4 478.4L233.8 458.3M231.8 462.3L233.8 458.3L236.8 461.7 M258.0 478.9L258.0 457.8M255.5 461.6L258.0 457.8L260.6 461.6 M282.3 478.0L279.7 458.7M277.7 462.8L279.7 458.7L282.7 462.1 M305.3 477.4L302.6 459.3M300.7 463.3L302.6 459.3L305.7 462.6 M328.3 476.4L325.5 460.3M323.7 464.4L325.5 460.3L328.6 463.6 M351.4 475.8L348.4 460.9M346.6 465.1L348.4 460.9L351.6 464.1 M374.4 475.6L371.2 461.1M369.6 465.3L371.2 461.1L374.5 464.2 M397.1 475.7L394.4 461.0M392.6 465.2L394.4 461.0L397.6 464.2 M419.4 474.5L418.0 462.2M416.0 466.2L418.0 462.2L421.0 465.7 M441.7 474.0L441.7 462.7M439.2 466.5L441.7 462.7L444.2 466.5 M465.0 473.2L464.3 463.5M462.0 467.4L464.3 463.5L467.1 467.0 M489.5 472.5L485.7 464.2M485.0 468.7L485.7 464.2L489.6 466.6 M513.2 473.2L507.9 463.5M507.5 468.0L507.9 463.5L511.9 465.6 M536.9 472.9L530.1 463.9M530.4 468.4L530.1 463.9L534.4 465.3 M559.1 470.6L553.8 466.1M555.0 470.4L553.8 466.1L558.3 466.6 M582.5 471.8L576.3 464.9M576.9 469.4L576.3 464.9L580.7 466.0 M605.1 470.7L599.7 466.0M600.9 470.4L599.7 466.0L604.2 466.6 M628.4 471.4L622.3 465.3M623.1 469.7L622.3 465.3L626.7 466.1 M651.4 470.3L645.2 466.4M647.0 470.5L645.2 466.4L649.7 466.3 M673.9 469.9L668.5 466.8M670.5 470.9L668.5 466.8L673.0 466.5 M155.9 498.7L153.6 476.8M151.5 480.8L153.6 476.8L156.5 480.3 M178.1 497.8L177.3 477.7M174.9 481.5L177.3 477.7L179.9 481.3 M202.4 503.5L198.9 472.0M196.8 476.0L198.9 472.0L201.8 475.4 M225.8 494.8L221.4 480.8M220.1 485.1L221.4 480.8L224.9 483.6 M249.6 498.7L243.5 476.8M242.1 481.1L243.5 476.8L246.9 479.7 M270.4 496.5L268.6 479.0M266.5 483.0L268.6 479.0L271.5 482.5 M293.8 495.4L291.2 480.1M289.3 484.3L291.2 480.1L294.3 483.4 M317.0 494.7L313.8 480.8M312.2 485.0L313.8 480.8L317.1 483.9 M339.6 494.8L337.1 480.7M335.3 484.8L337.1 480.7L340.3 484.0 M362.5 494.7L360.2 480.8M358.3 484.9L360.2 480.8L363.3 484.1 M385.4 494.7L383.2 480.8M381.3 484.9L383.2 480.8L386.3 484.1 M408.0 493.8L406.5 481.7M404.5 485.7L406.5 481.7L409.5 485.1 M430.7 492.6L429.7 482.9M427.6 486.9L429.7 482.9L432.6 486.3 M453.9 492.6L452.4 482.9M450.5 487.0L452.4 482.9L455.5 486.2 M476.9 492.6L475.4 482.9M473.5 487.0L475.4 482.9L478.4 486.2 M501.3 491.9L496.8 483.6M496.4 488.1L496.8 483.6L500.8 485.7 M524.3 491.1L519.8 484.4M519.8 488.9L519.8 484.4L523.9 486.1 M547.6 491.1L542.4 484.4M542.7 488.9L542.4 484.4L546.6 485.8 M571.0 490.8L564.9 484.7M565.7 489.1L564.9 484.7L569.3 485.5 M592.8 490.1L589.0 485.5M589.4 489.9L589.0 485.5L593.3 486.7 M616.5 489.3L611.2 486.2M613.1 490.3L611.2 486.2L615.6 485.9 M640.3 491.2L633.3 484.3M634.2 488.7L633.3 484.3L637.8 485.2 M663.2 490.8L656.3 484.7M657.4 489.0L656.3 484.7L660.8 485.3 M685.7 490.0L679.7 485.5M681.1 489.7L679.7 485.5L684.2 485.7 M168.4 519.0L164.0 495.3M162.2 499.5L164.0 495.3L167.2 498.6 M190.9 519.9L187.4 494.5M185.4 498.5L187.4 494.5L190.4 497.8 M213.9 516.8L210.4 497.5M208.6 501.7L210.4 497.5L213.5 500.8 M237.3 519.4L232.9 494.9M231.1 499.0L232.9 494.9L236.0 498.1 M260.2 511.1L255.9 503.2M255.5 507.7L255.9 503.2L259.9 505.3 M282.3 513.7L279.7 500.6M278.0 504.7L279.7 500.6L282.9 503.8 M305.9 513.0L302.0 501.3M300.8 505.6L302.0 501.3L305.6 504.1 M328.5 513.2L325.3 501.1M323.8 505.4L325.3 501.1L328.7 504.1 M350.8 513.8L349.0 500.5M347.0 504.5L349.0 500.5L352.0 503.8 M373.5 513.9L372.2 500.4M370.0 504.4L372.2 500.4L375.0 503.9 M396.4 513.4L395.2 500.9M393.0 504.9L395.2 500.9L398.0 504.4 M419.3 512.3L418.2 502.0M416.1 506.0L418.2 502.0L421.1 505.4 M442.5 512.0L440.9 502.3M439.0 506.4L440.9 502.3L444.0 505.6 M465.0 510.8L464.2 503.5M462.1 507.5L464.2 503.5L467.1 506.9 M488.4 510.0L486.8 504.3M485.4 508.6L486.8 504.3L490.2 507.2 M513.0 510.4L508.1 503.9M508.3 508.4L508.1 503.9L512.4 505.4 M535.1 509.6L531.9 504.7M531.9 509.2L531.9 504.7L536.0 506.4 M558.5 509.6L554.4 504.7M554.9 509.2L554.4 504.7L558.8 506.0 M581.3 509.9L577.5 504.5M577.6 509.0L577.5 504.5L581.7 506.0 M604.7 509.5L600.1 504.9M600.9 509.3L600.1 504.9L604.5 505.7 M628.0 508.7L622.6 505.6M624.6 509.7L622.6 505.6L627.1 505.3 M652.1 510.6L644.4 503.7M645.5 508.1L644.4 503.7L648.9 504.3 M673.9 509.1L668.5 505.2M670.1 509.5L668.5 505.2L673.0 505.4 M157.2 538.6L152.3 514.5M150.6 518.7L152.3 514.5L155.5 517.7 M179.9 537.5L175.5 515.6M173.8 519.8L175.5 515.6L178.7 518.8 M202.4 536.2L198.9 516.9M197.1 521.1L198.9 516.9L202.1 520.2 M226.2 537.1L221.0 516.1M219.5 520.3L221.0 516.1L224.3 519.1 M249.6 531.8L243.5 521.3M243.2 525.8L243.5 521.3L247.6 523.3 M271.7 532.7L267.3 520.4M266.2 524.8L267.3 520.4L271.0 523.1 M295.5 532.1L289.5 521.1M289.1 525.5L289.5 521.1L293.5 523.1 M316.9 532.1L313.9 521.1M312.5 525.3L313.9 521.1L317.3 524.0 M339.4 533.1L337.4 520.1M335.5 524.1L337.4 520.1L340.4 523.4 M361.8 534.1L360.8 519.1M358.6 523.0L360.8 519.1L363.6 522.6 M384.8 533.1L383.8 520.1M381.6 524.0L383.8 520.1L386.6 523.6 M407.8 533.1L406.8 520.1M404.5 524.0L406.8 520.1L409.6 523.6 M430.7 530.6L429.7 522.6M427.7 526.6L429.7 522.6L432.7 526.0 M454.0 531.0L452.4 522.1M450.5 526.2L452.4 522.1L455.5 525.3 M476.9 530.6L475.3 522.5M473.6 526.7L475.3 522.5L478.5 525.7 M501.1 529.8L497.0 523.3M496.9 527.8L497.0 523.3L501.2 525.1 M524.1 529.0L520.0 524.1M520.5 528.6L520.0 524.1L524.3 525.4 M547.4 529.0L542.5 524.1M543.4 528.5L542.5 524.1L547.0 525.0 M571.0 529.3L564.9 523.9M566.0 528.2L564.9 523.9L569.3 524.4 M592.8 529.3L589.0 523.9M589.1 528.4L589.0 523.9L593.2 525.4 M615.8 528.5L611.9 524.6M612.8 529.1L611.9 524.6L616.3 525.5 M639.5 528.5L634.1 524.6M635.7 528.9L634.1 524.6L638.6 524.8 M662.1 528.1L657.5 525.0M659.2 529.2L657.5 525.0L662.0 525.0 M685.4 528.6L680.0 524.5M681.5 528.8L680.0 524.5L684.5 524.8 M169.3 557.8L163.2 534.1M161.7 538.4L163.2 534.1L166.5 537.1 M192.2 560.9L186.1 531.1M184.4 535.2L186.1 531.1L189.3 534.2 M215.6 560.9L208.6 531.1M207.0 535.3L208.6 531.1L211.9 534.1 M236.8 555.6L233.3 536.3M231.5 540.5L233.3 536.3L236.5 539.6 M259.4 548.2L256.7 543.8M256.5 548.3L256.7 543.8L260.8 545.7 M283.6 553.0L278.4 539.0M277.3 543.3L278.4 539.0L282.0 541.6 M306.5 551.0L301.5 541.0M300.9 545.4L301.5 541.0L305.4 543.2 M329.4 553.0L324.4 539.0M323.3 543.3L324.4 539.0L328.0 541.6 M351.4 552.0L348.4 540.0M346.8 544.2L348.4 540.0L351.7 543.0 M373.8 553.0L371.8 539.0M369.9 543.0L371.8 539.0L374.8 542.3 M396.8 551.0L394.8 541.0M393.0 545.1L394.8 541.0L398.0 544.1 M418.9 550.5L418.5 541.5M416.2 545.3L418.5 541.5L421.2 545.1 M442.1 550.0L441.3 541.9M439.1 545.9L441.3 541.9L444.2 545.4 M465.5 550.0L463.8 541.9M462.1 546.1L463.8 541.9L467.0 545.1 M488.8 550.0L486.4 541.9M485.0 546.2L486.4 541.9L489.9 544.8 M511.8 549.2L509.3 542.7M508.3 547.1L509.3 542.7L513.0 545.3 M535.9 549.2L531.1 542.7M531.3 547.2L531.1 542.7L535.3 544.2 M558.1 548.0L554.8 543.9M555.2 548.4L554.8 543.9L559.1 545.3 M582.1 548.3L576.7 543.7M577.9 548.0L576.7 543.7L581.2 544.2 M605.1 547.9L599.7 544.0M601.3 548.3L599.7 544.0L604.2 544.2 M628.0 547.9L622.6 544.0M624.2 548.3L622.6 544.0L627.1 544.2 M651.4 548.3L645.2 543.7M646.7 547.9L645.2 543.7L649.7 543.9 M673.5 547.9L668.9 544.0M670.2 548.4L668.9 544.0L673.4 544.5 M158.6 576.6L150.9 554.2M149.7 558.5L150.9 554.2L154.5 556.9 M180.8 575.0L174.6 555.7M173.4 560.1L174.6 555.7L178.2 558.5 M204.2 575.9L197.2 554.9M195.9 559.2L197.2 554.9L200.7 557.6 M225.4 576.8L221.9 554.0M219.9 558.1L221.9 554.0L224.9 557.3 M248.8 576.3L244.4 554.4M242.6 558.6L244.4 554.4L247.6 557.6 M271.3 574.6L267.8 556.2M266.0 560.3L267.8 556.2L270.9 559.4 M295.5 574.9L289.5 555.9M288.2 560.2L289.5 555.9L293.0 558.7 M317.9 572.9L312.9 557.9M311.7 562.2L312.9 557.9L316.5 560.6 M340.4 573.4L336.4 557.4M334.9 561.6L336.4 557.4L339.7 560.4 M362.3 570.9L360.3 559.9M358.5 564.0L360.3 559.9L363.5 563.1 M385.1 570.9L383.5 559.9M381.5 563.9L383.5 559.9L386.5 563.2 M407.8 569.4L406.8 561.4M404.7 565.4L406.8 561.4L409.7 564.8 M430.7 568.9L429.7 561.9M427.7 565.9L429.7 561.9L432.7 565.2 M454.4 569.0L451.9 561.7M450.7 566.0L451.9 561.7L455.5 564.5 M476.5 569.4L475.7 561.3M473.6 565.3L475.7 561.3L478.6 564.8 M499.5 568.6L498.7 562.1M496.6 566.1L498.7 562.1L501.6 565.5 M524.5 567.8L519.6 562.9M520.4 567.4L519.6 562.9L524.0 563.8 M546.2 567.0L543.8 563.7M544.0 568.2L543.8 563.7L548.0 565.2 M569.9 567.4L566.0 563.3M566.7 567.8L566.0 563.3L570.4 564.3 M593.3 567.5L588.5 563.2M589.6 567.6L588.5 563.2L593.0 563.8 M616.4 567.4L611.3 563.3M612.6 567.6L611.3 563.3L615.7 563.7 M639.5 567.4L634.1 563.3M635.6 567.6L634.1 563.3L638.6 563.6 M662.4 567.4L657.1 563.4M658.6 567.6L657.1 563.4L661.6 563.6 M685.2 567.3L680.2 563.4M681.6 567.7L680.2 563.4L684.7 563.7 M171.5 595.7L161.0 573.8M160.3 578.3L161.0 573.8L164.9 576.1 M195.3 595.7L183.1 573.8M182.7 578.3L183.1 573.8L187.1 575.9 M215.6 594.0L208.6 575.6M207.6 580.0L208.6 575.6L212.3 578.2 M237.7 593.5L232.5 576.0M231.1 580.3L232.5 576.0L235.9 578.9 M259.8 593.1L256.3 576.5M254.6 580.6L256.3 576.5L259.5 579.6 M283.6 594.0L278.4 575.6M277.0 579.9L278.4 575.6L281.8 578.5 M306.0 590.8L302.0 578.8M300.8 583.1L302.0 578.8L305.5 581.5 M328.9 589.3L324.9 580.3M324.1 584.7L324.9 580.3L328.7 582.7 M351.4 588.3L348.4 581.3M347.5 585.7L348.4 581.3L352.1 583.7 M374.3 590.3L371.3 579.3M369.9 583.5L371.3 579.3L374.7 582.2 M396.3 589.8L395.3 579.8M393.1 583.7L395.3 579.8L398.2 583.2 M418.9 589.3L418.5 580.3M416.2 584.1L418.5 580.3L421.2 583.9 M442.5 588.0L440.9 581.5M439.3 585.8L440.9 581.5L444.2 584.5 M465.5 588.0L463.8 581.5M462.3 585.8L463.8 581.5L467.2 584.5 M488.4 588.0L486.8 581.5M485.2 585.8L486.8 581.5L490.1 584.5 M511.8 588.0L509.3 581.5M508.3 585.9L509.3 581.5L513.0 584.1 M535.1 587.2L531.9 582.3M531.9 586.8L531.9 582.3L536.0 584.0 M558.1 586.8L554.8 582.7M555.2 587.2L554.8 582.7L559.1 584.1 M581.2 586.8L577.6 582.7M578.2 587.2L577.6 582.7L582.0 583.8 M604.7 586.9L600.0 582.7M601.1 587.0L600.0 582.7L604.5 583.3 M628.0 586.8L622.7 582.8M624.1 587.0L622.7 582.8L627.2 583.0 M651.0 586.8L645.6 582.8M647.1 587.0L645.6 582.8L650.1 583.0 M673.8 586.7L668.6 582.8M670.1 587.1L668.6 582.8L673.1 583.0 M159.5 614.9L150.0 593.5M149.2 597.9L150.0 593.5L153.8 595.9 M182.6 614.9L172.8 593.4M172.1 597.8L172.8 593.4L176.7 595.8 M205.0 614.2L196.3 594.2M195.5 598.6L196.3 594.2L200.1 596.6 M226.8 613.6L220.5 594.7M219.3 599.0L220.5 594.7L224.0 597.5 M248.9 613.3L244.2 595.0M242.7 599.3L244.2 595.0L247.6 598.0 M271.7 612.9L267.3 595.5M265.8 599.7L267.3 595.5L270.7 598.5 M294.7 611.9L290.2 596.5M288.9 600.8L290.2 596.5L293.7 599.4 M317.6 610.2L313.3 598.1M312.2 602.5L313.3 598.1L316.9 600.8 M340.2 609.2L336.6 599.1M335.5 603.5L336.6 599.1L340.2 601.8 M362.8 609.1L359.9 599.2M358.5 603.5L359.9 599.2L363.4 602.1 M385.2 609.2L383.4 599.1M381.6 603.3L383.4 599.1L386.5 602.3 M407.8 608.8L406.7 599.5M404.6 603.5L406.7 599.5L409.6 602.9 M430.8 608.1L429.7 600.3M427.7 604.3L429.7 600.3L432.7 603.6 M453.9 607.6L452.4 600.7M450.8 604.9L452.4 600.7L455.7 603.8 M477.0 607.5L475.3 600.8M473.7 605.0L475.3 600.8L478.6 603.8 M500.0 607.4L498.1 600.9M496.8 605.2L498.1 600.9L501.6 603.8 M523.4 607.0L520.6 601.4M520.1 605.9L520.6 601.4L524.5 603.6 M546.6 606.5L543.3 601.8M543.4 606.3L543.3 601.8L547.5 603.4 M569.6 606.3L566.2 602.1M566.6 606.6L566.2 602.1L570.5 603.4 M592.9 606.2L588.9 602.1M589.7 606.6L588.9 602.1L593.3 603.1 M616.3 606.2L611.4 602.1M612.6 606.4L611.4 602.1L615.9 602.6 M639.4 606.2L634.2 602.2M635.6 606.4L634.2 602.2L638.7 602.4 M662.4 606.1L657.1 602.2M658.6 606.5L657.1 602.2L661.6 602.4 M685.3 606.1L680.1 602.2M681.6 606.5L680.1 602.2L684.6 602.4" fill="none" stroke="#1a0d00" stroke-width="0.8" stroke-opacity="0.9"/>
<path d="M155 104H170 M155 235.5H170 M155 366H170 M155 497.6H170 M668 235H683.5 M668 366.4H683.5 M668 497.6H683.5 M165 591V604.5 M278 591V604.5 M391 591V604.5 M504 591V604.5 M617 591V604.5 M188.5 76V89 M290.6 76V90 M393 76V90 M495.7 76V91 M598.9 76V90" fill="none" stroke="#000" stroke-width="1.3"/>
<polygon points="423.0,289.8 424.5,293.9 428.9,294.1 425.5,296.8 426.6,301.0 423.0,298.6 419.4,301.0 420.5,296.8 417.1,294.1 421.5,293.9" fill="none" stroke="#000" stroke-width="1.1"/>
<polygon points="458.0,446.8 459.5,450.9 463.9,451.1 460.5,453.8 461.6,458.0 458.0,455.6 454.4,458.0 455.5,453.8 452.1,451.1 456.5,450.9" fill="none" stroke="#000" stroke-width="1.1"/>
</g>
<rect x="155.6" y="76.6" width="527.6999999999999" height="527.8" fill="none" stroke="#000" stroke-width="1.15"/>
<rect x="657" y="76.9" width="28.6" height="38.1" fill="#fff" stroke="#000" stroke-width="0.9"/>
<path d="M660 101.25H681.9M677 99.2L681.9 101.25L677 103.3" fill="none" stroke="#000" stroke-width="0.8"/>
<rect x="163.10" y="628.5" width="39.38" height="14.3" fill="#0000f5" stroke="#000" stroke-width="0.8"/>
<rect x="202.48" y="628.5" width="39.38" height="14.3" fill="#0080ff" stroke="#000" stroke-width="0.8"/>
<rect x="241.85" y="628.5" width="39.38" height="14.3" fill="#00ffff" stroke="#000" stroke-width="0.8"/>
<rect x="281.23" y="628.5" width="39.38" height="14.3" fill="#00d28c" stroke="#000" stroke-width="0.8"/>
<rect x="320.61" y="628.5" width="39.38" height="14.3" fill="#00aa14" stroke="#000" stroke-width="0.8"/>
<rect x="359.98" y="628.5" width="39.38" height="14.3" fill="#87dc0a" stroke="#000" stroke-width="0.8"/>
<rect x="399.36" y="628.5" width="39.38" height="14.3" fill="#ffff00" stroke="#000" stroke-width="0.8"/>
<rect x="438.74" y="628.5" width="39.38" height="14.3" fill="#ffcc00" stroke="#000" stroke-width="0.8"/>
<rect x="478.12" y="628.5" width="39.38" height="14.3" fill="#ffa000" stroke="#000" stroke-width="0.8"/>
<rect x="517.49" y="628.5" width="39.38" height="14.3" fill="#ff5a00" stroke="#000" stroke-width="0.8"/>
<rect x="556.87" y="628.5" width="39.38" height="14.3" fill="#ff0000" stroke="#000" stroke-width="0.8"/>
<rect x="596.25" y="628.5" width="39.38" height="14.3" fill="#aa0046" stroke="#000" stroke-width="0.8"/>
<rect x="635.62" y="628.5" width="39.38" height="14.3" fill="#5a0096" stroke="#000" stroke-width="0.8"/>
<g font-family="Liberation Sans, sans-serif" fill="#000"><text x="306.5" y="26.2" font-size="14.35" font-weight="bold" text-anchor="start">2022/11/10/7UTC (1LT), Thursday</text><text x="306.5" y="41.8" font-size="14.35" font-weight="bold" text-anchor="start">FV3m0b0l0_GFS025</text><text x="154.5" y="63.6" font-size="24" font-weight="normal" text-anchor="start">2m specific humidity</text><text x="685.2" y="63.7" font-size="23.2" font-weight="normal" text-anchor="end">g kg-1</text><text x="671.2" y="91" font-size="14" font-weight="normal" text-anchor="middle">8</text><text x="146.5" y="240.9" font-size="14.5" font-weight="normal" text-anchor="end">36&#176;N</text><text x="146.5" y="503" font-size="14.5" font-weight="normal" text-anchor="end">32&#176;N</text><text x="165" y="625.3" font-size="14.5" font-weight="normal" text-anchor="middle">102&#176;W</text><text x="391" y="625.3" font-size="14.5" font-weight="normal" text-anchor="middle">98&#176;W</text><text x="617" y="625.3" font-size="14.5" font-weight="normal" text-anchor="middle">94&#176;W</text><text x="268.3" y="620.6" font-size="14.3" font-weight="normal" text-anchor="middle">Min= 2.87 Max= 14.24</text><text x="202.48" y="656.7" font-size="14" font-weight="normal" text-anchor="middle">3</text><text x="281.23" y="656.7" font-size="14" font-weight="normal" text-anchor="middle">5</text><text x="359.98" y="656.7" font-size="14" font-weight="normal" text-anchor="middle">7</text><text x="438.74" y="656.7" font-size="14" font-weight="normal" text-anchor="middle">9</text><text x="517.49" y="656.7" font-size="14" font-weight="normal" text-anchor="middle">11</text><text x="596.25" y="656.7" font-size="14" font-weight="normal" text-anchor="middle">13</text></g>
</svg>
</body></html>
